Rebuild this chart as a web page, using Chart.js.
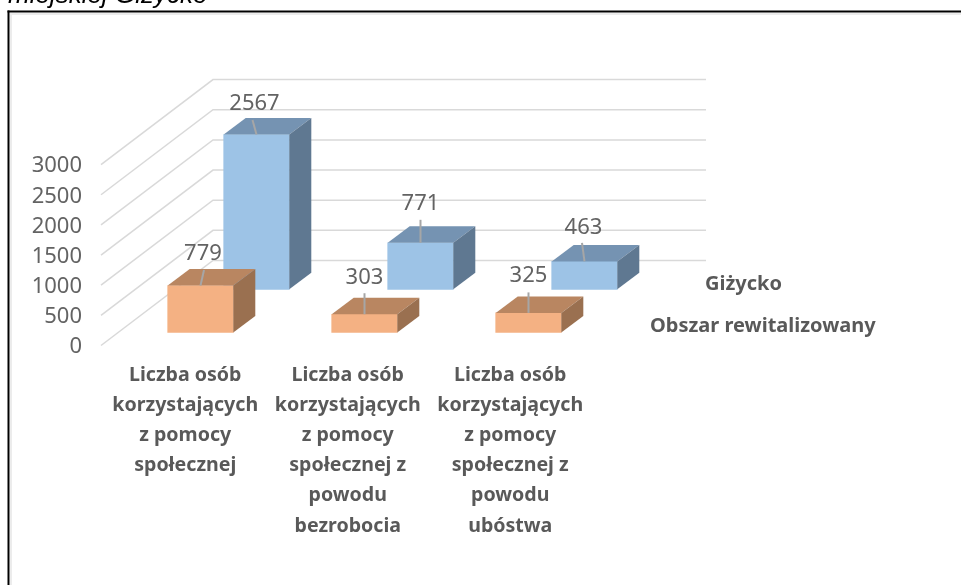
<!DOCTYPE html>
<html><head><meta charset="utf-8">
<style>html,body{margin:0;padding:0;background:#fff}canvas{display:block}</style>
<script src="https://cdn.jsdelivr.net/npm/chart.js@4"></script></head>
<body><canvas id="c" width="961" height="585"></canvas>
<script>
const categories = [
  ['Liczba osób','korzystających','z pomocy','społecznej'],
  ['Liczba osób','korzystających','z pomocy','społecznej z','powodu','bezrobocia'],
  ['Liczba osób','korzystających','z pomocy','społecznej z','powodu','ubóstwa']
];
const seriesNames = ['Giżycko','Obszar rewitalizowany'];
const gizycko = [2567,771,463];
const obszar = [779,303,325];
const yTicks = [0,500,1000,1500,2000,2500,3000];
const title = 'miejskiej Giżycko';

// layout constants
const PX = 0.0603, AREA_TOP = 45.5, AREA_BOTTOM = 345.5, AREA_L = 101, AREA_R = 751;
const RANGE = (AREA_BOTTOM - AREA_TOP) / PX;
const yShift = px => px / PX;
const BAR_W = 65.6, D_X = 22, D_Y = 16.5;
const WALL_DX = 112, WALL_DY = 85, WALL_R = 706;
const FONT = '"Noto Sans"', TXT = '#595959', NUM = '#636363';
// leader line / label placement relative to top-face front centre
const leaders = {
  back:  [{lx:-4,ly:-14.5,tx:-2,ty:-31},{lx:0,ly:-23,tx:0,ty:-39},{lx:-2.5,ly:-18.5,tx:-1,ty:-33.5}],
  front: [{lx:3.5,ly:-15.5,tx:2.5,ty:-32},{lx:0,ly:-21,tx:0,ty:-36},{lx:0,ly:-20.5,tx:0,ty:-37.5}]
};
const faces = {
  back:  {top:'#7593B2', side:'#5F7891'},
  front: {top:'#B98661', side:'#9A7050'}
};

const cube3d = {
  id:'cube3d',
  beforeDraw(chart){
    const c = chart.ctx;
    c.save();
    c.fillStyle='#fff'; c.fillRect(0,0,chart.width,chart.height);
    // title and frame
    c.font='italic 26px "Liberation Sans"'; c.fillStyle='#000'; c.textAlign='left'; c.textBaseline='alphabetic';
    c.fillText(title,8,3);
    c.fillStyle='#ececec'; c.fillRect(10,13,951,2); c.fillRect(10,13,2,572);
    c.fillStyle='#000'; c.fillRect(7.5,10.5,953.5,2); c.fillRect(7.5,10.5,2,574.5);
    // walls from the tick scale
    const y = chart.scales.y;
    c.strokeStyle='#d9d9d9'; c.lineWidth=1.5;
    yTicks.forEach(v=>{
      const py = y.getPixelForValue(v);
      c.beginPath();
      c.moveTo(AREA_L,py); c.lineTo(AREA_L+WALL_DX,py-WALL_DY); c.lineTo(WALL_R,py-WALL_DY);
      c.stroke();
    });
    // depth-axis series names
    c.font='bold 20px '+FONT; c.fillStyle=TXT; c.textBaseline='middle';
    c.fillText(seriesNames[0],705,284);
    c.fillText(seriesNames[1],650,326);
    c.restore();
  },
  afterDatasetDraw(chart,args){
    const key = args.index===0?'back':'front', f = faces[key], c = chart.ctx;
    c.save();
    chart.getDatasetMeta(args.index).data.forEach(b=>{
      const l=b.x-b.width/2, r=b.x+b.width/2, t=b.y, bt=b.base;
      c.fillStyle=f.top;
      c.beginPath(); c.moveTo(l,t); c.lineTo(l+D_X,t-D_Y); c.lineTo(r+D_X,t-D_Y); c.lineTo(r,t); c.closePath(); c.fill();
      c.fillStyle=f.side;
      c.beginPath(); c.moveTo(r,t); c.lineTo(r+D_X,t-D_Y); c.lineTo(r+D_X,bt-D_Y); c.lineTo(r,bt); c.closePath(); c.fill();
    });
    c.restore();
  },
  afterDatasetsDraw(chart){
    const c = chart.ctx;
    c.save();
    c.font='22px '+FONT; c.textAlign='center'; c.textBaseline='middle';
    [[0,'back'],[1,'front']].forEach(([i,key])=>{
      const vals = chart.data.datasets[i].data;
      chart.getDatasetMeta(i).data.forEach((b,j)=>{
        const o = leaders[key][j];
        c.strokeStyle='#a6a6a6'; c.lineWidth=2;
        c.beginPath(); c.moveTo(b.x,b.y); c.lineTo(b.x+o.lx,b.y+o.ly); c.stroke();
        c.fillStyle=NUM;
        c.fillText(String(vals[j].y),b.x+o.tx,b.y+o.ty);
      });
    });
    c.restore();
  }
};

const toXY = a => a.map((v,i)=>({x:i,y:v}));
const xLin = m => ({type:'linear',axis:'x',display:false,offset:false,bounds:'data',min:m,max:m+(AREA_R-AREA_L)/164,grid:{display:false,offset:false}});
const yLin = px => ({type:'linear',axis:'y',display:false,bounds:'data',min:-yShift(px),max:RANGE-yShift(px),grid:{display:false}});

new Chart(document.getElementById('c'),{
  type:'bar',
  plugins:[cube3d],
  data:{datasets:[
    {label:seriesNames[0],data:toXY(gizycko),xAxisID:'xBack',yAxisID:'yBack',backgroundColor:'#9DC3E6',order:2,grouped:false,barThickness:BAR_W},
    {label:seriesNames[1],data:toXY(obszar),xAxisID:'xFront',yAxisID:'yFront',backgroundColor:'#F4B183',order:1,grouped:false,barThickness:BAR_W}
  ]},
  options:{
    responsive:false,animation:false,
    layout:{padding:{top:AREA_TOP,right:961-AREA_R,left:0,bottom:0}},
    plugins:{legend:{display:false},tooltip:{enabled:false},title:{display:false}},
    scales:{
      x:{type:'category',labels:[...categories,''],position:'bottom',offset:true,
        grid:{display:false},border:{display:false},
        afterFit(s){s.height=585-AREA_BOTTOM;},
        ticks:{color:TXT,font:{family:'Noto Sans',size:19.6,weight:'bold',lineHeight:30.2/19.6},
          maxRotation:0,minRotation:0,autoSkip:false,padding:6.5,labelOffset:3}},
      y:{type:'linear',position:'left',min:0,max:RANGE,bounds:'data',
        grid:{display:false,drawTicks:false},border:{display:false},
        afterFit(s){s.width=AREA_L;},
        afterBuildTicks(s){s.ticks=yTicks.map(v=>({value:v}));},
        ticks:{color:NUM,font:{family:'Noto Sans',size:22},padding:19,labelOffset:1.5,callback:v=>String(v)}},
      xBack:xLin(-(256.5-AREA_L)/164),
      xFront:xLin(-(200.5-AREA_L)/164),
      yBack:yLin(AREA_BOTTOM-289.3),
      yFront:yLin(AREA_BOTTOM-332.5)
    }
  }
});
</script></body></html>
